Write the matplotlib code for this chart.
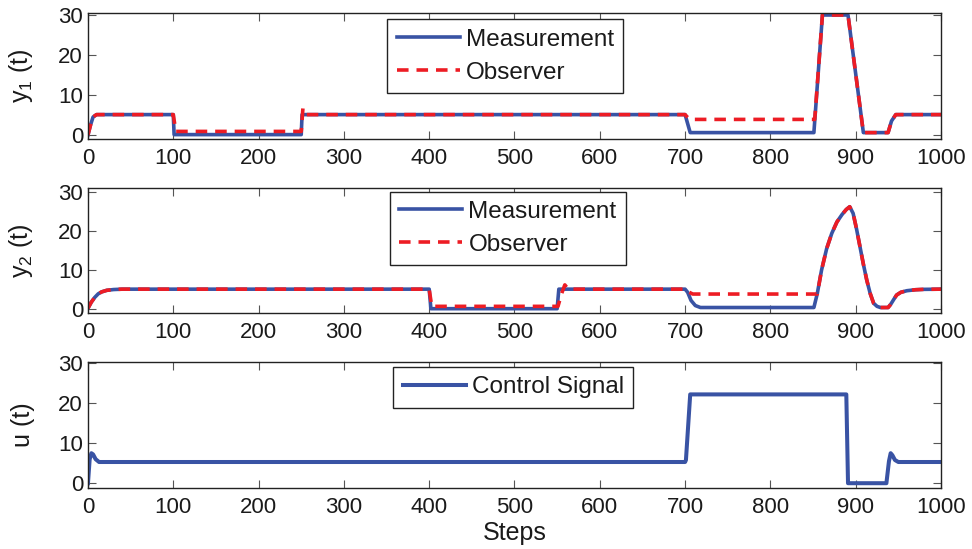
import numpy as np
import matplotlib.pyplot as plt

plt.rcParams['font.family'] = ['Liberation Sans', 'DejaVu Sans']
plt.rcParams['mathtext.default'] = 'regular'

# ---- data (knots) ----
y1_steps = [0, 3, 6, 10, 100, 101, 250, 251, 700, 706, 851, 861, 891, 909, 938, 942, 947, 1000]
y1_meas = [0, 2.5, 4.5, 5.1, 5.1, 0.1, 0.1, 5.1, 5.1, 0.6, 0.6, 30, 30, 0.6, 0.6, 3.5, 5.1, 5.1]

y1_obs_steps = [0, 3, 6, 10, 100, 103, 250, 252, 256, 700, 703, 706, 852, 861, 891, 909, 938, 942, 947, 1000]
y1_obs = [0, 2.5, 4.5, 5.1, 5.1, 0.9, 0.9, 6.7, 5.1, 5.1, 4.4, 3.9, 3.9, 30, 30, 0.6, 0.6, 3.5, 5.1, 5.1]

y2_steps = [0, 4, 8, 12, 16, 22, 30, 40, 400, 402, 550, 552, 700, 703, 707, 712, 718,
            851, 855, 860, 866, 872, 878, 884, 889, 893, 897, 901, 905, 909, 913, 917,
            921, 925, 929, 938, 941, 945, 948, 953, 960, 970, 980, 1000]
y2_meas = [0.2, 1.8, 3.0, 3.9, 4.4, 4.8, 5.0, 5.1, 5.1, 0.1, 0.1, 5.1, 5.1, 4.3, 2.2, 0.9, 0.4,
           0.4, 4.0, 10.0, 15.5, 19.4, 22.3, 24.2, 25.5, 26.2, 24.5, 20.5, 16.0, 11.5, 7.4, 4.0,
           1.5, 0.7, 0.4, 0.4, 1.2, 2.6, 3.6, 4.3, 4.7, 4.95, 5.05, 5.1]

y2_obs_steps = [0, 4, 8, 12, 16, 22, 30, 40, 400, 403, 551, 555, 559, 563, 700, 703, 709,
                855, 860, 866, 872, 878, 884, 889, 893, 897, 901, 905, 909, 913, 917,
                921, 925, 929, 938, 941, 945, 948, 953, 960, 970, 980, 1000]
y2_obs = [0.2, 1.8, 3.0, 3.9, 4.4, 4.8, 5.0, 5.1, 5.1, 0.7, 0.7, 3.8, 6.2, 5.1, 5.1, 4.5, 3.85,
          3.85, 10.0, 15.5, 19.4, 22.3, 24.2, 25.5, 26.2, 24.5, 20.5, 16.0, 11.5, 7.4, 4.0,
          1.5, 0.7, 0.4, 0.4, 1.2, 2.6, 3.6, 4.3, 4.7, 4.95, 5.05, 5.1]

u_steps = [0, 2, 4, 6, 9, 13, 20, 700, 701, 706, 889, 891, 936, 939, 941, 943, 946, 950, 955, 1000]
u_vals = [0, 6.0, 7.5, 7.2, 6.0, 5.3, 5.3, 5.3, 5.8, 22.2, 22.2, 0, 0, 5.5, 7.5, 7.0, 5.8, 5.3, 5.3, 5.3]

xticks = [0, 100, 200, 300, 400, 500, 600, 700, 800, 900, 1000]
yticks = [0, 10, 20, 30]

BLUE = '#3953A4'
RED = '#ED1C24'
LW = 2.6
FS = 16
LAB_FS = 18
LEG_FS = 17.5


def style_axes(ax, ylim, ylabel):
    ax.set_xlim(0, 1000)
    ax.set_ylim(*ylim)
    ax.set_xticks(xticks)
    ax.set_yticks(yticks)
    ax.tick_params(direction='in', top=True, right=True, length=6, width=0.8,
                   color='#555555', labelsize=FS, labelcolor='#1a1a1a')
    ax.tick_params(axis='x', pad=6.5)
    ax.tick_params(axis='y', pad=3.5)
    for s in ax.spines.values():
        s.set_linewidth(1.0)
        s.set_color('#222222')
    ax.set_ylabel(ylabel, fontsize=LAB_FS, color='#1a1a1a')
    ax.yaxis.set_label_coords(-0.062, 0.5)


def add_legend(ax, anchor):
    leg = ax.legend(loc='upper left', bbox_to_anchor=anchor, fontsize=LEG_FS,
                    frameon=True, fancybox=False, framealpha=1, edgecolor='#222222',
                    borderaxespad=0, handlelength=2.6, handletextpad=0.25,
                    borderpad=0.38, labelspacing=0.45)
    leg.get_frame().set_linewidth(1.0)
    for t in leg.get_texts():
        t.set_color('#1a1a1a')


fig = plt.figure(figsize=(9.72, 5.49), dpi=100)
ax1 = fig.add_axes([0.0905, 0.7468, 0.8776, 0.2295])
ax2 = fig.add_axes([0.0905, 0.4299, 0.8776, 0.2277])
ax3 = fig.add_axes([0.0905, 0.1111, 0.8776, 0.2295])

ax1.plot(y1_steps, y1_meas, color=BLUE, lw=LW, label='Measurement')
ax1.plot(y1_obs_steps, y1_obs, color=RED, lw=LW, dashes=(3.2, 2.2), label='Observer')
style_axes(ax1, (-1, 30.5), 'y$_1$ (t)')
add_legend(ax1, (0.351, 0.95))

ax2.plot(y2_steps, y2_meas, color=BLUE, lw=LW, label='Measurement')
ax2.plot(y2_obs_steps, y2_obs, color=RED, lw=LW, dashes=(3.2, 2.2), label='Observer')
style_axes(ax2, (-1, 31), 'y$_2$ (t)')
add_legend(ax2, (0.354, 0.97))

ax3.plot(u_steps, u_vals, color=BLUE, lw=LW + 0.3, label='Control Signal')
style_axes(ax3, (-1.2, 30.3), 'u (t)')
add_legend(ax3, (0.358, 0.96))
ax3.set_xlabel('Steps', fontsize=LAB_FS, color='#1a1a1a', labelpad=2)

fig.savefig('out.png', dpi=100)
